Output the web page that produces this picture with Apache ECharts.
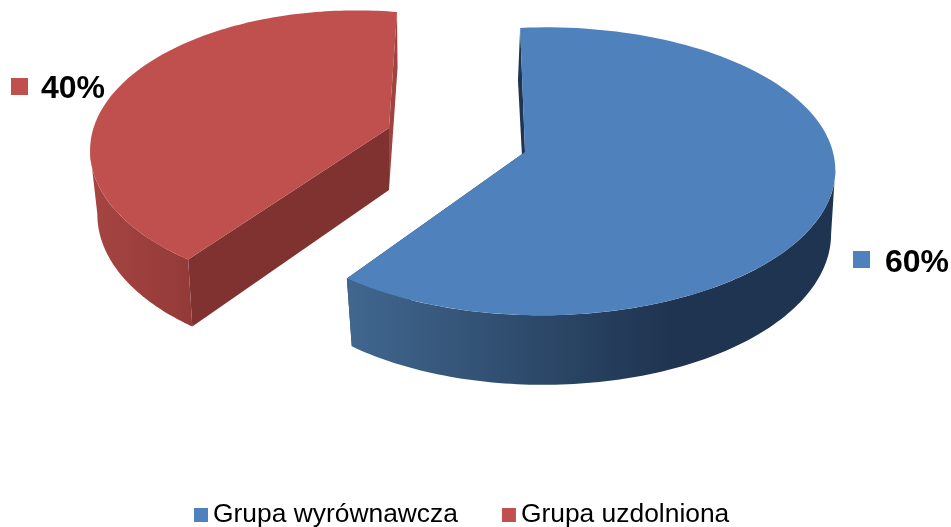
<!DOCTYPE html>
<html>
<head>
<meta charset="utf-8">
<style>
html, body { margin: 0; padding: 0; background: #fff; }
#chart { width: 951px; height: 527px; }
</style>
<script src="https://cdn.jsdelivr.net/npm/echarts@6/dist/echarts.min.js"></script>
</head>
<body>
<div id="chart"></div>
<script>
var groups = ['Grupa wyrównawcza', 'Grupa uzdolniona']
var shares = [60, 40]

// how each exploded slice is projected and painted
var looks = [
	{
		cx: 525, cy: 152, a: 288, b: 141, p: 0.136, q: 0.06, sk: 5.5, skLow: 8, t: -5,
		depth: 61, dk: 0.14, lowScale: 0.985,
		top: '#4f81bd', wallA: '#1f3552', wallB: '#1f3552',
		rim: [[0, '#41678f'], [0.66, '#1f3450'], [1, '#1f3450']],
		tag: { x: 853, y: 251, tx: 885, ty: 263 }
	},
	{
		cx: 389, cy: 128, a: 260, b: 135.6, p: 0.169, q: -0.11, sk: -9.35, skLow: -10, t: 8,
		depth: 62, dk: 0.1, lowScale: 0.975,
		top: '#c0504d', wallA: '#7f3230', wallB: '#a0423f',
		rim: [[0, '#a64542'], [1, '#933a38']],
		tag: { x: 11, y: 78, tx: 41, ty: 89 }
	}
]
var RIM_FROM = 84 / 180 * Math.PI, RIM_TO = 282 / 180 * Math.PI

var total = shares.reduce(function (s, v) { return s + v }, 0)

function toAngle(v) {
	return v / total * Math.PI * 2
}

function project(look, th, low) {
	var u = Math.sin(th), v = -Math.cos(th)
	var w = 1 - look.p * v - look.q * u
	if (low) {
		return [
			look.cx + (look.a * look.lowScale * u + look.skLow * v) / w,
			look.cy + (look.b * v + look.t * u) / w + look.depth * (1 + look.dk * v)
		]
	}
	return [
		look.cx + (look.a * u + look.sk * v) / w,
		look.cy + (look.b * v + look.t * u) / w
	]
}

function arc(look, from, to, low) {
	var pts = [], n = 120
	for (var i = 0; i <= n; i++) {
		pts.push(project(look, from + (to - from) * i / n, low))
	}
	return pts
}

// cut an arc at its widest point, so the drum's side runs straight from top to bottom there
function toWidest(look, pts) {
	var best = 0
	pts.forEach(function (pt, i) {
		if (Math.abs(pt[0] - look.cx) > Math.abs(pts[best][0] - look.cx)) best = i
	})
	return best < pts.length / 2 ? pts.slice(best) : pts.slice(0, best + 1)
}

function wall(look, th, fill) {
	var apexLow = [look.cx, look.cy + look.depth]
	return {
		type: 'polygon',
		shape: { points: [[look.cx, look.cy], project(look, th, false), project(look, th, true), apexLow] },
		style: { fill: fill }
	}
}

function sliceRenderer(idx) {
	var look = looks[idx]
	var before = 0
	for (var i = 0; i < idx; i++) before += shares[i]
	return function (params, api) {
		var from = toAngle(before)
		var to = from + toAngle(api.value(0))
		var last = to >= Math.PI * 2 - 1e-6
		// only the front of the drum shows, the rest sits behind the top face
		var rimA = Math.max(from, RIM_FROM), rimB = Math.min(to, RIM_TO)
		var rimStops = look.rim.map(function (s) { return { offset: s[0], color: s[1] } })
		var rimTop = toWidest(look, arc(look, rimA, rimB, false))
		var rimLow = toWidest(look, arc(look, rimA, rimB, true))
		var rimPts = rimTop.concat(rimLow.reverse())
		var topPts = [[look.cx, look.cy]].concat(arc(look, from, to, false))
		return {
			type: 'group',
			children: [
				wall(look, last ? from : to, look.wallA),
				wall(look, last ? to : from, look.wallB),
				{
					type: 'polygon',
					shape: { points: rimPts },
					style: { fill: new echarts.graphic.LinearGradient(0, 0, 1, 0, rimStops) }
				},
				{ type: 'polygon', shape: { points: topPts }, style: { fill: look.top } },
				{
					type: 'rect',
					shape: { x: look.tag.x, y: look.tag.y, width: 17, height: 17 },
					style: { fill: look.top }
				},
				{
					type: 'text',
					style: {
						x: look.tag.tx, y: look.tag.ty,
						text: api.value(0) + '%',
						fill: '#000',
						font: 'bold 32px "Liberation Sans", Arial, sans-serif',
						textAlign: 'left', textVerticalAlign: 'middle'
					}
				}
			]
		}
	}
}

var chart = echarts.init(document.getElementById('chart'))
chart.setOption({
	animation: false,
	legend: {
		data: groups,
		left: 194,
		top: 502,
		padding: 0,
		icon: 'rect',
		itemWidth: 14,
		itemHeight: 14,
		itemGap: 44,
		textStyle: {
			color: '#000',
			fontSize: 26.4,
			fontFamily: '"Liberation Sans", Arial, sans-serif'
		}
	},
	series: groups.map(function (name, i) {
		return {
			type: 'custom',
			name: name,
			coordinateSystem: 'none',
			silent: true,
			itemStyle: { color: looks[i].top },
			renderItem: sliceRenderer(i),
			data: [[shares[i]]]
		}
	})
})
</script>
</body>
</html>
